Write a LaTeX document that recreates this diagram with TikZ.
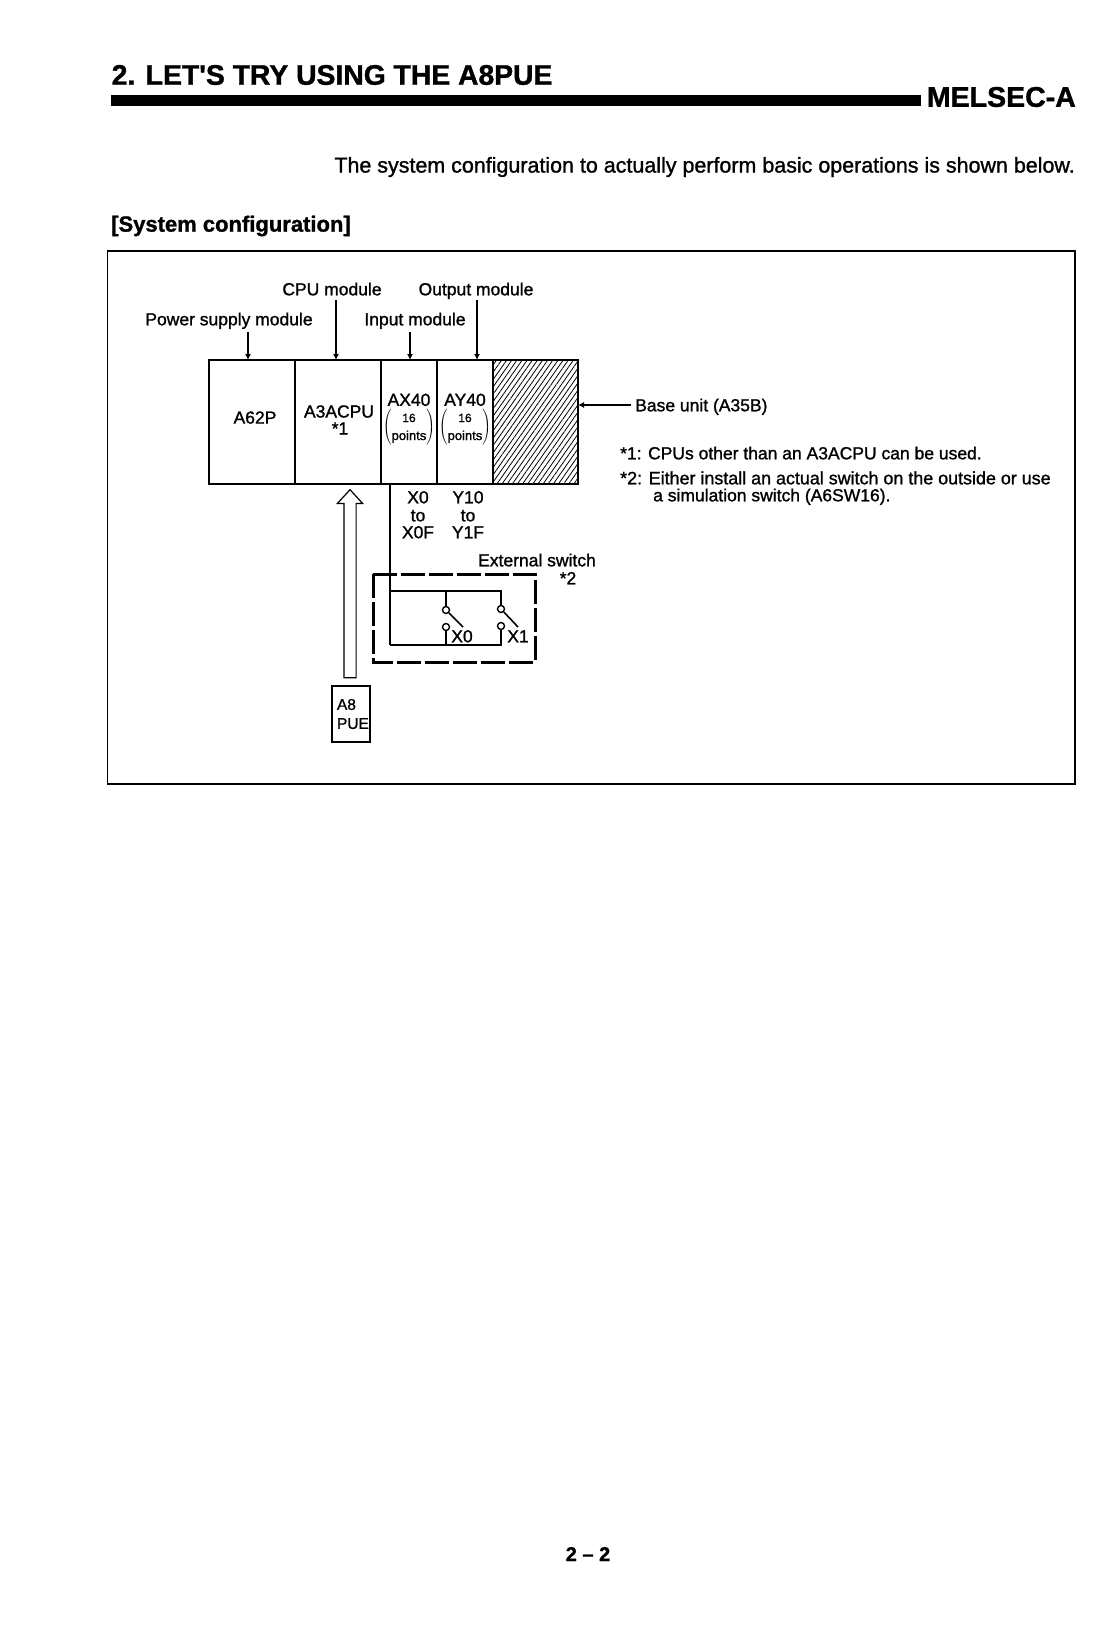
\documentclass[tikz,border=0pt]{standalone}
\usepackage{fontspec}
\setmainfont[FakeBold=1.2]{Liberation Sans}
\newfontfamily\headface[FakeBold=1.2]{Liberation Sans Bold}
\usetikzlibrary{arrows.meta,patterns.meta,shapes.arrows}
\tikzset{
    lbl/.style={inner sep=0pt, text height=12.6pt, text depth=0pt, font=\fontsize{17.5}{21}\selectfont},
    module/.style={draw, line width=1.5pt, inner sep=0pt, outer sep=0pt, minimum height=124pt, align=center, font=\fontsize{17.5}{20}\selectfont},
    pointer/.style={line width=1.2pt, -{Latex[length=6pt,width=6pt]}},
    wire/.style={line width=1.6pt},
    contact/.style={draw, circle, line width=1.4pt, inner sep=0pt, minimum size=7pt, fill=white}
}
\newcommand{\pointsbox}{\(\left(\vcenter{\hbox{\begin{tabular}{@{}c@{}}\fontsize{12}{14}\selectfont 16\\[-2pt]\fontsize{13}{14}\selectfont points\end{tabular}}}\right)\)}
\begin{document}
\begin{tikzpicture}[x=1pt, y=-1pt]
        \useasboundingbox (0, 0) rectangle (1113, 1633);

        % Page head
        \node[anchor=west, inner sep=0pt, font=\fontsize{28.3}{32}\headface] (Title) at (111.5, 75) {2. LET'S TRY USING THE A8PUE};
        \fill (111, 95) rectangle (921, 106);
        \node[anchor=east, inner sep=0pt, font=\fontsize{28.5}{34}\headface] (Melsec) at (1076, 97) {MELSEC-A};
        \node[anchor=east, inner sep=0pt, font=\fontsize{21.45}{25}\selectfont] (Intro) at (1075, 167) {The system configuration to actually perform basic operations is shown below.};
        \node[anchor=west, inner sep=0pt, font=\fontsize{22}{25}\headface] (SysConf) at (111, 226) {[System configuration]};
        \draw[line width=1.4pt] (107.5, 251) rectangle (1075, 784);

        % Modules
        \node[module, minimum width=86pt] (APower) at (252, 422) {\hspace*{6pt}\raisebox{9pt}{A62P}};
        \node[module, minimum width=86pt] (ACpu) at (338, 422) {\raisebox{8.5pt}{\begin{tabular}{@{}c@{}}\hspace*{2pt}A3ACPU\\[-3pt]\hspace*{4pt}*1\end{tabular}}};
        \node[module, minimum width=56pt] (AInput) at (409, 422) {AX40\\[1pt]\pointsbox\\[-1pt]};
        \node[module, minimum width=56pt] (AOutput) at (465, 422) {AY40\\[1pt]\pointsbox\\[-1pt]};
        \node[module, minimum width=85pt, pattern={Lines[angle=55,distance=4.2pt,line width=.8pt]}] (ABase) at (535.5, 422) {};

        % Labels
        \node[lbl] (LCpu) at (332, 289) {CPU module};
        \node[lbl] (LOutput) at (476, 289) {Output module};
        \node[lbl] (LPower) at (229, 319) {Power supply module};
        \node[lbl] (LInput) at (415, 319) {Input module};
        \node[lbl, anchor=west] (LBase) at (635, 405) {Base unit (A35B)};
        \node[lbl, anchor=west] (NoteOne) at (620, 453) {*1: CPUs other than an A3ACPU can be used.};
        \node[lbl, anchor=west, font=\fontsize{17.9}{21}\selectfont] (NoteTwo) at (620, 478) {*2: Either install an actual switch on the outside or use};
        \node[lbl, anchor=west] (NoteThree) at (653, 495) {a simulation switch (A6SW16).};
        \node[lbl] (XFrom) at (418, 497) {X0};
        \node[lbl] (XTo) at (418, 515) {to};
        \node[lbl] (XEnd) at (418, 532) {X0F};
        \node[lbl] (YFrom) at (468, 497) {Y10};
        \node[lbl] (YTo) at (468, 515) {to};
        \node[lbl] (YEnd) at (468, 532) {Y1F};
        \node[lbl] (LSwitch) at (537, 560) {External switch};
        \node[lbl] (LNote) at (568, 578) {*2};
        \node[lbl] (LXa) at (462, 636) {X0};
        \node[lbl] (LXb) at (518, 636) {X1};
        \node[inner sep=0pt, font=\fontsize{20}{24}\headface] (Page) at (588, 1554) {2 – 2};

        % Pointers
        \coordinate (PCpu) at (336, 300);
        \coordinate (POutput) at (477, 300);
        \coordinate (PPower) at (248, 332);
        \coordinate (PInput) at (410, 332);
        \draw[pointer] (PCpu) -- (PCpu |- ACpu.north);
        \draw[pointer] (POutput) -- (POutput |- AOutput.north);
        \draw[pointer] (PPower) -- (PPower |- APower.north);
        \draw[pointer] (PInput) -- (PInput |- AInput.north);
        \draw[pointer] ([xshift=-4pt]LBase.west) -- (LBase.west -| ABase.east);

        % Peripheral
        \node[draw, line width=1.4pt, text width=28pt, minimum height=56pt, inner xsep=5pt, inner ysep=0pt, align=left, font=\fontsize{15.5}{19}\selectfont] (Pue) at (351, 714) {A8\\PUE};
        \node[draw, line width=1.2pt, single arrow, rotate=90, inner xsep=0pt, inner ysep=5.5pt, minimum height=188pt, single arrow head extend=6.5pt, single arrow tip angle=85] (UpArrow) at (350, 587) {};

        % External switch
        \draw[line width=3pt, dash pattern=on 24pt off 4pt] (373, 574) rectangle (535, 662);
        \coordinate (RailTop) at (390, 591);
        \coordinate (RailBot) at (390, 645);
        \node[contact] (XaTop) at (446, 610) {};
        \node[contact] (XaBot) at (446, 627) {};
        \node[contact] (XbTop) at (501, 609) {};
        \node[contact] (XbBot) at (501, 626) {};
        \coordinate (XaEnd) at (463, 627);
        \coordinate (XbEnd) at (518, 627);
        \draw[wire] (AInput.south -| RailBot) -- (RailBot);
        \draw[wire] (RailTop) -- (RailTop -| XbTop) -- (XbTop);
        \draw[wire] (RailBot) -- (RailBot -| XbBot) -- (XbBot);
        \draw[wire] (RailTop -| XaTop) -- (XaTop);
        \draw[wire] (RailBot -| XaBot) -- (XaBot);
        \draw[wire] (XaTop) -- (XaEnd);
        \draw[wire] (XbTop) -- (XbEnd);
    \end{tikzpicture}
\end{document}
